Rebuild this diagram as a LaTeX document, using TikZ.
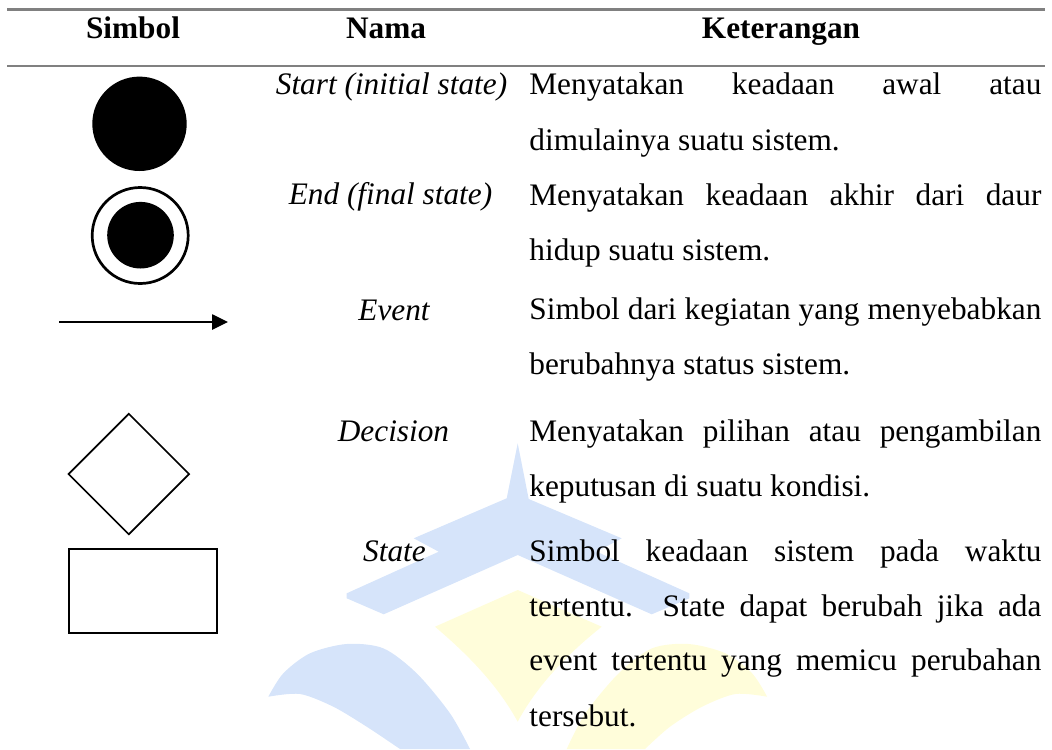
\documentclass[tikz,border=0pt]{standalone}
\usepackage{fontspec}
\setmainfont{Liberation Serif}
\usetikzlibrary{shapes.geometric,arrows.meta}
\definecolor{rulegray}{RGB}{128,128,128}
\definecolor{wmblue}{RGB}{214,228,250}
\definecolor{wmyellow}{RGB}{255,253,218}
\newcommand{\tabfont}{\fontsize{15.65pt}{18pt}\selectfont}
\newcommand{\jline}[1]{\makebox[256pt][s]{#1}}
\begin{document}
\begin{tikzpicture}[x=0.5pt,y=-0.5pt,
  hdr/.style={anchor=base,inner sep=0pt,font=\tabfont\bfseries},
  nm/.style={anchor=base,inner sep=0pt,font=\tabfont\itshape},
  desc/.style={anchor=base west,inner sep=0pt,font=\tabfont},
  tabrule/.style={draw=rulegray,line width=1.25pt},
  symline/.style={draw=black,inner sep=0pt,outer sep=0pt}
]
\useasboundingbox (0,0) rectangle (1052,749);
% watermark
\fill[wmblue] (517.7,443.3) -- (528.7,499) -- (621.7,538.3) -- (596.7,551.7) -- (689.3,593.3) -- (689.3,598.3) -- (651.7,614.3) -- (517.7,555) -- (383.7,614.3) -- (346.7,598.3) -- (346.7,593.3) -- (438.7,551.7) -- (413.7,538.3) -- (506.7,498.3) -- cycle;
\fill[wmblue] plot[smooth] coordinates {(268.3,696.7) (283.3,673.3) (310,653.3) (346.7,644) (383.3,648.3) (416.7,673.3) (450,713.3) (470,749)} -- (400,749) -- plot[smooth] coordinates {(400,749) (366.7,726.7) (333.3,706.7) (300,694) (268.3,696.7)} -- cycle;
\fill[wmyellow] plot[smooth] coordinates {(767.1,696.7) (752.1,673.3) (725.4,653.3) (688.7,644) (652.1,648.3) (618.7,673.3) (585.4,713.3) (566.7,749)} -- (645,749) -- plot[smooth] coordinates {(645,749) (670,726.7) (702.1,706.7) (735.4,694) (767.1,696.7)} -- cycle;
\fill[wmyellow] (517.7,590) -- (601.7,626.7) .. controls (575,648) and (540,680) .. (517.7,721.7) .. controls (495,680) and (460,648) .. (435,626.7) -- cycle;
% rules
\coordinate (r1a) at (7,9.3);
\coordinate (r1b) at (1045,9.3);
\coordinate (r2a) at (7,66);
\coordinate (r2b) at (1045,66);
\draw[tabrule] (r1a) -- (r1b);
\draw[tabrule] (r2a) -- (r2b);
% headers
\node[hdr] (hsim) at (133,39) {Simbol};
\node[hdr] (hnam) at (386,39) {Nama};
\node[hdr] (hket) at (781,39) {Keterangan};
% symbols
\node[circle,fill=black,minimum size=47.2pt,inner sep=0pt] (sstart) at (139.5,123.8) {};
\node[circle,symline,line width=1.35pt,minimum size=48pt] (sendout) at (140.2,235.5) {};
\node[circle,fill=black,minimum size=33.3pt,inner sep=0pt] (sendin) at (140.5,235.2) {};
\coordinate (ev1) at (59,322);
\coordinate (ev2) at (228,322);
\draw[line width=0.65pt,-{Triangle[length=8pt,width=7.7pt]}] (ev1) -- (ev2);
\node[diamond,symline,line width=0.85pt,minimum width=60.25pt,minimum height=60.25pt,aspect=1] (sdec) at (128.8,474) {};
\node[rectangle,symline,line width=1.15pt,minimum width=73.7pt,minimum height=42.2pt] (sstate) at (143,590.9) {};
% names
\node[nm] (nstart) at (391.5,94.3) {Start (initial state)};
\node[nm] (nend) at (390.5,204.5) {End (final state)};
\node[nm] (nevent) at (394,320.5) {Event};
\node[nm] (ndec) at (393.5,441.7) {Decision};
\node[nm] (nstate) at (394.5,561.7) {State};
% descriptions
\node[desc] (d1a) at (529,94.3) {\jline{Menyatakan keadaan awal atau}};
\node[desc] (d1b) at (529,150) {dimulainya suatu sistem.};
\node[desc] (d2a) at (529,205) {\jline{Menyatakan keadaan akhir dari daur}};
\node[desc] (d2b) at (529,260) {hidup suatu sistem.};
\node[desc] (d3a) at (529,319) {\jline{Simbol dari kegiatan yang menyebabkan}};
\node[desc] (d3b) at (529,374) {berubahnya status sistem.};
\node[desc] (d4a) at (529,441.7) {\jline{Menyatakan pilihan atau pengambilan}};
\node[desc] (d4b) at (529,496) {keputusan di suatu kondisi.};
\node[desc] (d5a) at (529,561.7) {\jline{Simbol keadaan sistem pada waktu}};
\node[desc] (d5b) at (529,616) {\jline{tertentu. State dapat berubah jika ada}};
\node[desc] (d5c) at (529,670.7) {\jline{event tertentu yang memicu perubahan}};
\node[desc] (d5d) at (529,726) {tersebut.};
\end{tikzpicture}
\end{document}
